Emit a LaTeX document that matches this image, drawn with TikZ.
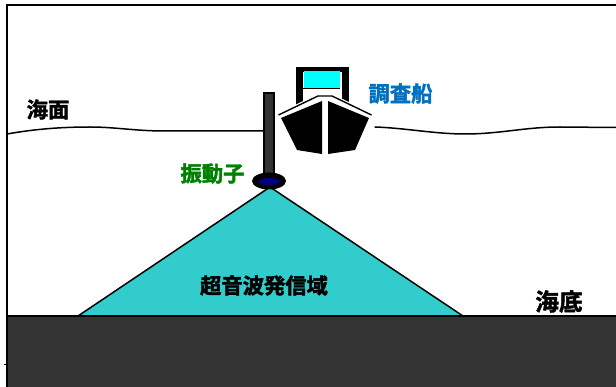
\documentclass[tikz,border=0pt]{standalone}
\usepackage{fontspec}
\newfontfamily\cjk[BoldFont={Noto Sans CJK JP Bold},BoldFeatures={FakeBold=2}]{Noto Sans CJK JP}
\definecolor{conecyan}{RGB}{51,204,204}
\definecolor{floorgrey}{RGB}{51,51,51}
\definecolor{windowcyan}{RGB}{0,255,255}
\definecolor{probeblue}{RGB}{0,0,128}
\begin{document}
\begin{tikzpicture}[x=1pt,y=-1pt,
  label text/.style={font=\cjk\bfseries\fontsize{#1}{#1}\selectfont,inner sep=0pt},
  wave/.style={draw=black,line width=1.5pt,line cap=round}]
  \useasboundingbox (0,0) rectangle (616,387);
  \fill[white] (0,0) rectangle (616,387);

  % Frame of the section
  \draw[black,line width=2pt] (7,387) -- (7,5.5) -- (616,5.5);
  \draw[black,line width=0.8pt] (4,364) -- (7,364);

  % Sea surface on both sides of the vessel
  \draw[wave] (7,134) .. controls (35,129) and (62,127) .. (90,127)
              .. controls (115,127) and (135,131) .. (165,131) -- (263,131);
  \draw[wave] (375,127) .. controls (405,128) and (435,134) .. (465,134)
              .. controls (500,134) and (525,127) .. (560,127) -- (616,127.5);

  % Sound cone and sea floor
  \draw[fill=conecyan,line width=1.5pt] (78,316) -- (270,187) -- (463,316) -- cycle;
  \draw[fill=floorgrey,line width=1.5pt] (7,316) rectangle (617,388);

  % Transducer on its pole
  \draw[fill=floorgrey,line width=2pt] (264,93) rectangle (274,176);
  \fill[black] (269,181) ellipse [x radius=17,y radius=8.5];
  \fill[probeblue] (269,181.5) ellipse [x radius=11,y radius=3.5];

  % Vessel: cabin, window and hull
  \fill[black] (296,67) rectangle (349,105);
  \fill[white] (303,72) rectangle (342,108);
  \fill[windowcyan] (303.5,71.5) rectangle (340,88);
  \fill[black] (303,88) rectangle (340,89);
  \fill[white] (276,114) -- (318,94) -- (332,94) -- (374,114) -- (372,120) -- (278,120) -- cycle;
  \draw[black,line width=1.4pt] (278.5,115) -- (318,96) -- (332,96) -- (371.5,115);
  \fill[black] (281,118) -- (322,101) -- (322,154) -- (297,150) -- cycle;
  \fill[black] (328,101) -- (369,118) -- (355,150) -- (328,154) -- cycle;

  % Labels
  \node[label text=21.3,text=black] (surface) at (48,109.5) {海面};
  \node[label text=21.3,text={rgb,255:red,0;green,112;blue,192}] (vessel) at (400.5,93.5) {調査船};
  \node[label text=21.3,text={rgb,255:red,0;green,128;blue,0}] (transducer) at (212.5,173.5) {振動子};
  \node[label text=21.3,text=black] (beam) at (264,285.5) {超音波発信域};
  \node[label text=23.6,text=black] (floor) at (559,301.5) {海底};
\end{tikzpicture}
\end{document}
